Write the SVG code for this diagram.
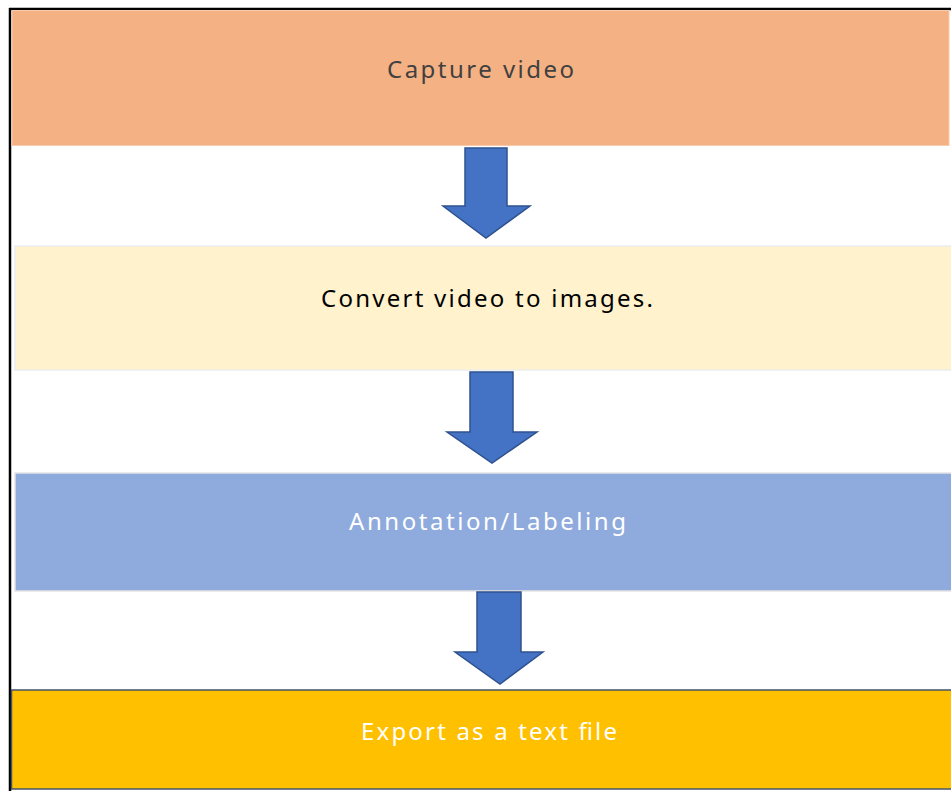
<svg xmlns="http://www.w3.org/2000/svg" width="951" height="791" viewBox="0 0 951 791">
<style>
.lbl{font-family:"Noto Sans","Open Sans","DejaVu Sans",sans-serif;font-size:24px;text-anchor:middle}
.arr{fill:#4472C4;stroke:#2F528F;stroke-width:1.5;stroke-linejoin:miter}
</style>
<rect x="0" y="0" width="951" height="791" fill="#ffffff"/>
<g id="frame">
<line x1="9" y1="9" x2="951" y2="9" stroke="#000" stroke-width="2.5"/>
<line x1="10" y1="8" x2="10" y2="791" stroke="#000" stroke-width="2.5"/>
</g>
<g id="node-capture">
<rect x="12" y="10.5" width="937" height="135" fill="#F4B183" stroke="#F8CBAD" stroke-width="1"/>
<text class="lbl" x="480.5" y="78" fill="#404040" textLength="187" lengthAdjust="spacing">Capture video</text>
</g>
<g id="node-convert">
<rect x="15" y="246" width="937" height="124" fill="#FFF2CC" stroke="#EDEDED" stroke-width="1.5"/>
<text class="lbl" x="487" y="307" fill="#000000" textLength="332" lengthAdjust="spacing">Convert video to images.</text>
</g>
<g id="node-annotation">
<rect x="15" y="473" width="937" height="118" fill="#8FAADC" stroke="#E3E3E3" stroke-width="1.5"/>
<text class="lbl" x="487.5" y="530" fill="#ffffff" textLength="277" lengthAdjust="spacing">Annotation/Labeling</text>
</g>
<g id="node-export">
<rect x="11.5" y="690" width="941" height="99" fill="#FFC000" stroke="#44546A" stroke-width="1.5"/>
<text class="lbl" x="489" y="740" fill="#ffffff" textLength="256" lengthAdjust="spacing">Export as a text file</text>
</g>
<g id="connectors">
<polygon class="arr" points="465,148 507,148 507,206 530,206 486,238 443,206 465,206"/>
<polygon class="arr" points="470,372 513,372 513,432 537,432 492,463 447,432 470,432"/>
<polygon class="arr" points="477,592 521,592 521,652 543,652 500,684 455,652 477,652"/>
</g>
</svg>
